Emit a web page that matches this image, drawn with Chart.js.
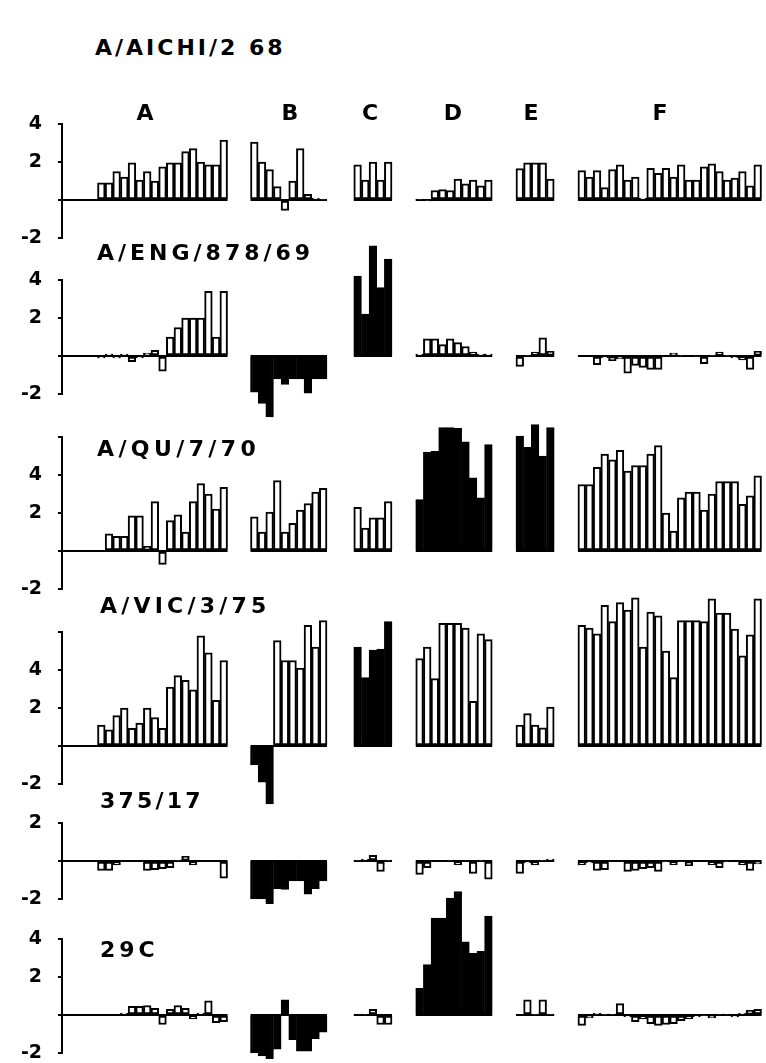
<!DOCTYPE html>
<html>
<head>
<meta charset="utf-8">
<script src="https://cdn.jsdelivr.net/npm/chart.js@4.4.1/dist/chart.umd.min.js"></script>
<style>
    html, body { margin: 0; padding: 0; background: #fff; overflow: hidden; }
    #page { position: relative; width: 766px; height: 1063px; }
    #page canvas { position: absolute; left: 0; }
    .lbl {
        position: absolute;
        font-family: "DejaVu Sans", sans-serif;
        font-weight: bold;
        color: #000;
        white-space: nowrap;
        line-height: 1;
    }
</style>
</head>
<body>
<div id="page"></div>
<script>
// Group and strain names
const groups = ['A', 'B', 'C', 'D', 'E', 'F'];
const strains = ['A/AICHI/2 68', 'A/ENG/878/69', 'A/QU/7/70', 'A/VIC/3/75', '375/17', '29C'];
const tickLabels = [-2, 2, 4];

// Values, one list per group A..F
const aichi = [
    [0.9, 0.9, 1.5, 1.2, 1.95, 1.05, 1.5, 1.0, 1.75, 1.95, 1.95, 2.55, 2.7, 2.0, 1.85, 1.85, 3.15],
    [3.05, 2.0, 1.6, 0.7, -0.55, 1.0, 2.7, 0.3, 0.1, 0.05],
    [1.85, 1.05, 2.0, 1.05, 2.0],
    [0.05, -0.05, 0.5, 0.55, 0.5, 1.1, 0.85, 1.05, 0.75, 1.05],
    [1.65, 1.95, 1.95, 1.95, 1.1],
    [1.55, 1.2, 1.55, 0.65, 1.6, 1.85, 1.05, 1.2, 0.1, 1.67, 1.4, 1.67, 1.2, 1.85, 1.05, 1.05, 1.75, 1.9, 1.5, 1.05, 1.15, 1.5, 0.75, 1.85]
];
const eng = [
    [-0.1, 0.1, -0.1, 0.1, -0.3, -0.1, 0.15, 0.3, -0.8, 1.0, 1.5, 2.0, 2.0, 2.0, 3.4, 1.0, 3.4],
    [-1.9, -2.5, -3.2, -1.2, -1.5, -1.2, -1.2, -1.95, -1.2, -1.2],
    [4.2, 2.2, 5.8, 3.6, 5.1],
    [0.1, 0.9, 0.9, 0.6, 0.9, 0.7, 0.5, 0.2, 0.1, 0.1],
    [-0.55, 0.05, 0.2, 0.95, 0.25],
    [0, 0, -0.45, -0.1, -0.25, -0.15, -0.9, -0.5, -0.6, -0.7, -0.7, 0, 0.15, 0.05, 0, -0.05, -0.4, 0.05, 0.2, 0.05, -0.1, -0.2, -0.7, 0.25]
];
const qu = [
    [0, 0.9, 0.77, 0.77, 1.85, 1.85, 0.25, 2.6, -0.7, 1.6, 1.9, 1.0, 2.6, 3.55, 3.0, 2.2, 3.35],
    [1.8, 1.0, 2.05, 3.7, 1.0, 1.45, 2.15, 2.5, 3.1, 3.3],
    [2.3, 1.2, 1.75, 1.75, 2.6],
    [2.7, 5.2, 5.25, 6.5, 6.5, 6.45, 5.75, 3.85, 2.8, 5.6],
    [6.05, 5.45, 6.65, 5.0, 6.5],
    [3.5, 3.5, 4.4, 5.1, 4.8, 5.3, 4.2, 4.5, 4.5, 5.1, 5.55, 2.0, 1.05, 2.8, 3.1, 3.1, 2.15, 3.0, 3.65, 3.65, 3.65, 2.45, 2.9, 3.95]
];
const vic = [
    [1.1, 0.85, 1.6, 2.0, 0.93, 1.2, 2.0, 1.5, 0.93, 3.1, 3.7, 3.45, 2.95, 5.8, 4.9, 2.4, 4.5],
    [-1.0, -1.9, -3.05, 5.55, 4.5, 4.5, 4.1, 6.35, 5.2, 6.6],
    [5.2, 3.6, 5.05, 5.1, 6.55],
    [4.6, 5.2, 3.55, 6.45, 6.45, 6.45, 6.2, 2.35, 5.9, 5.6],
    [1.1, 1.7, 1.1, 0.95, 2.05],
    [6.35, 6.2, 5.9, 7.4, 6.55, 7.55, 7.15, 7.8, 5.2, 7.05, 6.85, 5.0, 3.6, 6.6, 6.6, 6.6, 6.55, 7.75, 7.0, 7.0, 6.15, 4.75, 5.85, 7.75]
];
const m375 = [
    [-0.5, -0.5, -0.2, 0, 0, 0, -0.5, -0.45, -0.4, -0.35, 0.05, 0.25, -0.2, 0, 0, 0, -0.9],
    [-2.0, -2.0, -2.25, -1.45, -1.5, -1.05, -1.05, -1.75, -1.45, -1.05],
    [0.05, 0.1, 0.3, -0.55, 0.05],
    [-0.7, -0.35, 0, 0, 0.05, -0.2, 0, -0.65, 0.05, -0.95],
    [-0.65, -0.1, -0.2, 0.05, 0.1],
    [-0.2, -0.1, -0.5, -0.45, 0, 0, -0.55, -0.5, -0.4, -0.35, -0.55, -0.05, -0.2, -0.05, -0.25, 0, 0, -0.2, -0.35, -0.05, 0, -0.2, -0.5, -0.15]
];
const m29c = [
    [0, 0, 0, 0.1, 0.45, 0.45, 0.5, 0.35, -0.5, 0.3, 0.5, 0.35, -0.2, 0.1, 0.75, -0.4, -0.35],
    [-2.0, -2.15, -2.3, -1.8, 0.8, -1.3, -1.9, -1.9, -1.25, -0.9],
    [0.0, 0.05, 0.3, -0.5, -0.5],
    [1.4, 2.65, 5.1, 5.1, 6.15, 6.5, 3.85, 3.25, 3.35, 5.2],
    [0.0, 0.8, 0.05, 0.8, 0.05],
    [-0.55, -0.15, 0.1, 0.05, 0.05, 0.6, -0.1, -0.35, -0.2, -0.45, -0.55, -0.5, -0.45, -0.3, -0.2, -0.1, -0.05, -0.15, 0.05, 0.05, -0.1, 0.1, 0.25, 0.3]
];
const panels = [aichi, eng, qu, vic, m375, m29c];

// Which groups are solid black: '' none, 'all' every bar, 'neg' only bars below zero
const shading = [
    ['', '', '', '', '', ''],
    ['', 'all', 'all', '', '', ''],
    ['', '', '', 'all', 'all', ''],
    ['', 'neg', 'all', '', '', ''],
    ['', 'all', '', '', '', ''],
    ['', 'all', '', 'all', '', '']
];
const panelMax = [4, 4, 6, 6, 2, 4];

// Layout (pixels)
const WIDTH = 766;
const AXIS_X = 62;
const FIRST_BAR = 97.5;
const SLOT = 7.65;
const UNIT = 19;
const PAD_T = 60;
const PAD_B = 30;
const groupStart = [0, 20, 33.5, 41.6, 54.7, 62.8];
const panelZero = [200, 356, 551, 746, 861, 1015];

const page = document.getElementById('page');
const xMin = (AXIS_X - FIRST_BAR) / SLOT;
const xMax = (WIDTH - FIRST_BAR) / SLOT;

// Draws the zero line under every group, through the chart scales
const zeroLines = {
    id: 'zeroLines',
    beforeDatasetsDraw(chart, args, opts) {
        const { ctx } = chart;
        const x = chart.scales.x;
        const y0 = chart.scales.y.getPixelForValue(0);
        ctx.save();
        ctx.strokeStyle = '#000';
        ctx.lineWidth = 2;
        opts.spans.forEach(([a, b]) => {
            ctx.beginPath();
            ctx.moveTo(x.getPixelForValue(a), y0);
            ctx.lineTo(x.getPixelForValue(b), y0);
            ctx.stroke();
        });
        ctx.restore();
    }
};

function addLabel(text, x, y, size, spacing, center) {
    const el = document.createElement('div');
    el.className = 'lbl';
    el.textContent = text;
    el.style.left = x + 'px';
    el.style.top = y + 'px';
    el.style.fontSize = size + 'px';
    el.style.letterSpacing = spacing + 'px';
    el.style.transform = center ? 'translate(-50%, -50%)' : 'translateY(-50%)';
    page.appendChild(el);
}

function isBlack(mode, v) {
    return mode === 'all' || (mode === 'neg' && v < 0);
}

function drawPanel(k) {
    const values = panels[k];
    const max = panelMax[k];
    const canvas = document.createElement('canvas');
    canvas.width = WIDTH;
    canvas.height = PAD_T + (max + 2) * UNIT + PAD_B;
    canvas.style.top = (panelZero[k] - max * UNIT - PAD_T) + 'px';
    page.appendChild(canvas);

    const datasets = values.map((vals, g) => ({
        data: vals.map((v, i) => ({ x: groupStart[g] + i + 0.5, y: v })),
        backgroundColor: vals.map(v => isBlack(shading[k][g], v) ? '#000' : '#fff'),
        borderColor: '#000',
        borderWidth: 2,
        borderSkipped: false,
        barPercentage: 1,
        categoryPercentage: 1,
        grouped: false,
        clip: false
    }));
    // group A's zero line starts at the axis
    const spans = values.map((vals, g) => [g === 0 ? xMin : groupStart[g], groupStart[g] + vals.length]);

    new Chart(canvas, {
        type: 'bar',
        data: { datasets: datasets },
        plugins: [zeroLines],
        options: {
            responsive: false,
            animation: false,
            layout: { padding: { top: PAD_T, bottom: PAD_B, left: 0, right: 0 } },
            plugins: {
                legend: { display: false },
                tooltip: { enabled: false },
                zeroLines: { spans: spans }
            },
            scales: {
                x: { type: 'linear', display: false, min: xMin, max: xMax, offset: false },
                y: {
                    min: -2,
                    max: max,
                    afterFit: scale => { scale.width = AXIS_X; },
                    ticks: {
                        stepSize: 2,
                        autoSkip: false,
                        padding: 16,
                        color: '#000',
                        font: { family: 'DejaVu Sans', weight: 'bold', size: 19 },
                        callback: v => tickLabels.includes(v) ? String(v) : ''
                    },
                    grid: { drawOnChartArea: false, color: '#000', lineWidth: 2, tickLength: 4 },
                    border: { color: '#000', width: 2 }
                }
            }
        }
    });
}

panels.forEach((p, k) => drawPanel(k));

// Titles and group letters
addLabel(strains[0], 95, 48, 22, 3, false);
const letterX = [145, 290, 370, 453, 531, 660];
groups.forEach((g, i) => addLabel(g, letterX[i], 113, 22, 0, true));
addLabel(strains[1], 97, 253, 22, 4, false);
addLabel(strains[2], 97, 449, 22, 4.4, false);
addLabel(strains[3], 100, 606, 22, 4.2, false);
addLabel(strains[4], 100, 801, 22, 3.2, false);
addLabel(strains[5], 100, 950, 22, 4, false);
</script>
</body>
</html>
